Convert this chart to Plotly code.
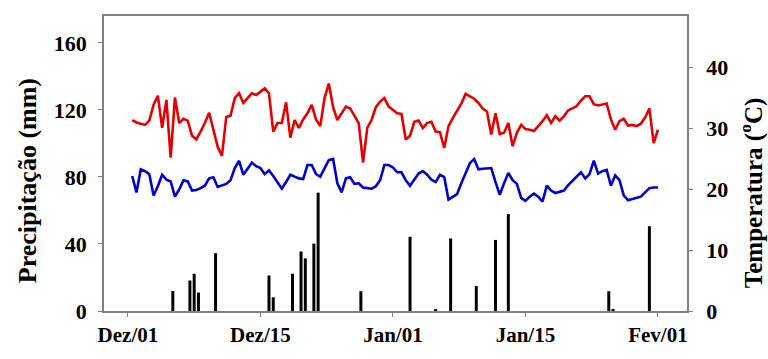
import plotly.graph_objects as go

# 12-hour periods from Dez/01 (0) to Fev/01 (124)
periodo = list(range(1, 125))

# Maximum temperature (°C)
temp_max = [31.4, 31.0, 30.8, 30.6, 31.3, 33.9, 35.4, 30.1, 34.7, 25.2,
            35.1, 30.9, 31.6, 31.3, 28.8, 28.2, 29.5, 30.9, 32.6, 30.0,
            27.0, 25.5, 31.9, 32.1, 35.0, 35.8, 34.2, 35.0, 35.8, 35.5,
            36.0, 36.6, 35.8, 29.5, 30.9, 30.9, 34.3, 28.5, 31.4, 30.1,
            31.5, 32.5, 33.9, 31.5, 30.4, 35.0, 37.4, 33.5, 31.4, 32.5,
            33.6, 33.3, 32.2, 30.9, 24.4, 30.1, 31.4, 33.5, 34.4, 35.0,
            33.6, 33.0, 32.5, 32.4, 28.2, 28.8, 31.1, 31.3, 30.1, 30.9,
            31.1, 29.5, 29.4, 26.8, 30.4, 31.7, 32.8, 34.1, 35.7, 35.3,
            34.9, 34.2, 33.3, 32.8, 29.0, 32.5, 29.1, 29.3, 30.9, 27.1,
            29.3, 30.6, 29.9, 29.8, 29.6, 30.4, 31.2, 32.2, 30.9, 32.0,
            31.3, 32.0, 33.0, 33.3, 33.7, 34.6, 35.3, 35.3, 34.0, 33.8,
            33.9, 34.1, 31.5, 29.8, 31.2, 31.6, 30.5, 30.6, 30.4, 30.8,
            31.8, 33.3, 27.6, 29.8]

# Minimum temperature (°C)
temp_min = [22.2, 19.5, 23.3, 23.0, 22.5, 19.0, 20.5, 22.4, 21.6, 21.3,
            18.8, 20.0, 21.5, 21.3, 19.8, 19.9, 20.2, 20.6, 21.8, 22.0,
            20.4, 20.7, 20.9, 21.5, 23.5, 24.7, 22.4, 23.4, 24.4, 23.8,
            23.5, 22.5, 23.1, 22.2, 21.2, 20.1, 21.2, 22.4, 22.1, 21.8,
            21.7, 24.0, 24.0, 22.5, 22.1, 23.5, 24.8, 25.0, 21.0, 19.5,
            21.8, 22.0, 20.9, 21.0, 20.3, 20.2, 20.1, 20.5, 21.5, 24.0,
            24.0, 23.6, 22.8, 22.8, 21.5, 20.6, 21.6, 22.6, 23.0, 22.4,
            21.6, 21.2, 22.4, 22.0, 18.3, 18.8, 19.2, 21.0, 22.6, 24.3,
            25.0, 23.3, 23.4, 23.5, 23.5, 21.2, 19.1, 21.0, 22.7, 21.5,
            20.9, 18.6, 18.1, 18.8, 19.3, 18.8, 18.0, 20.6, 19.8, 19.4,
            19.6, 19.8, 20.7, 21.4, 22.1, 22.8, 21.8, 22.5, 24.7, 22.6,
            23.0, 23.2, 20.6, 22.3, 21.5, 19.0, 18.2, 18.4, 18.5, 18.8,
            19.5, 20.2, 20.3, 20.3]

# Rainfall events (mm)
chuva_periodo = [10.5, 14.5, 15.5, 16.5, 20.5, 33, 34, 38.5, 40.5, 41.5,
                 43.5, 44.5, 54.5, 66, 72, 75.5, 81.5, 86, 89, 112.5,
                 113.5, 122]
chuva_mm = [11.9, 18.2, 22.2, 11.0, 34.5, 21.2, 8.2, 22.2, 35.5, 31.4,
            40.2, 70.6, 11.8, 44.3, 0.6, 43.3, 14.9, 42.4, 57.8, 11.8,
            1.0, 50.6]

tick_pos = [0, 31, 62, 93, 124]
tick_txt = ["<b>Dez/01</b>", "<b>Dez/15</b>", "<b>Jan/01</b>", "<b>Jan/15</b>", "<b>Fev/01</b>"]
prec_ticks = [0, 40, 80, 120, 160]
temp_ticks = [0, 10, 20, 30, 40]

FONT = "Liberation Serif"
AXIS_GRAY = "#808080"

fig = go.Figure()

fig.add_trace(go.Bar(
    x=chuva_periodo, y=chuva_mm, width=0.7,
    marker=dict(color="black", line=dict(width=0)),
    yaxis="y", name="Precipitação",
))
fig.add_trace(go.Scatter(
    x=periodo, y=temp_max, mode="lines",
    line=dict(color="#e00000", width=2.6),
    yaxis="y2", name="Tmax",
))
fig.add_trace(go.Scatter(
    x=periodo, y=temp_min, mode="lines",
    line=dict(color="#0000cc", width=2.6),
    yaxis="y2", name="Tmin",
))

tickfont = dict(family=FONT, size=22, color="black")

fig.update_layout(
    width=768, height=359,
    margin=dict(l=104, r=81, t=16, b=43),
    paper_bgcolor="white", plot_bgcolor="white",
    showlegend=False,
    font=dict(family=FONT, color="black"),
    xaxis=dict(
        range=[-5.6, 130.8], tickmode="array", tickvals=tick_pos, ticktext=tick_txt,
        showline=True, linecolor=AXIS_GRAY, linewidth=1.5, mirror=True,
        ticks="outside", ticklen=4, tickcolor=AXIS_GRAY,
        showgrid=False, zeroline=False,
        tickfont=dict(family=FONT, size=21, color="black"),
    ),
    yaxis=dict(
        range=[0, 176], tickmode="array", tickvals=prec_ticks,
        ticktext=[f"<b>{v}</b>" for v in prec_ticks],
        showline=True, linecolor=AXIS_GRAY, linewidth=1.5,
        ticks="outside", ticklen=4, tickcolor=AXIS_GRAY,
        showgrid=False, zeroline=False, tickfont=tickfont,
        ticklabelstandoff=7,
    ),
    yaxis2=dict(
        range=[0, 48.5], tickmode="array", tickvals=temp_ticks,
        ticktext=[f"<b>{v}</b>" for v in temp_ticks],
        overlaying="y", side="right",
        showline=True, linecolor=AXIS_GRAY, linewidth=1.5,
        ticks="outside", ticklen=4, tickcolor=AXIS_GRAY,
        showgrid=False, zeroline=False, tickfont=tickfont,
        ticklabelstandoff=9,
    ),
    annotations=[
        dict(text="<b>Precipitação (mm)</b>", textangle=-90,
             xref="paper", yref="paper", x=-0.132, y=0.44,
             xanchor="center", yanchor="middle", showarrow=False,
             font=dict(family=FONT, size=26, color="black")),
        dict(text="<b>Temperatura (<sup>o</sup>C)</b>", textangle=-90,
             xref="paper", yref="paper", x=1.11, y=0.40,
             xanchor="center", yanchor="middle", showarrow=False,
             font=dict(family=FONT, size=25, color="black")),
    ],
)

fig.write_html("out.html")
